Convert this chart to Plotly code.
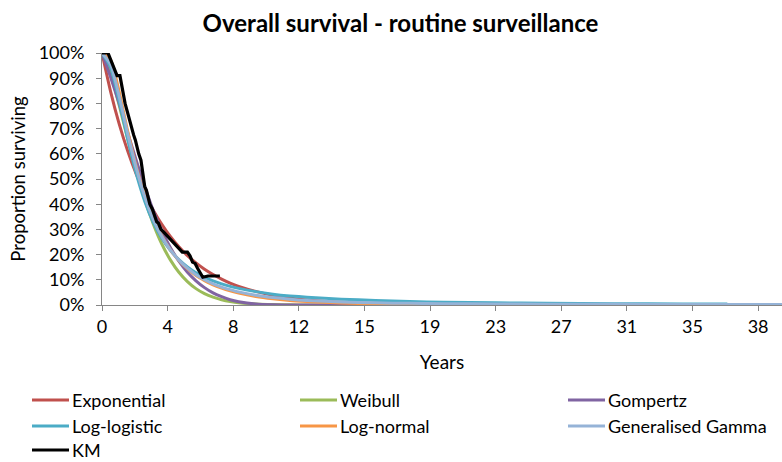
import plotly.graph_objects as go

# Time grid (years) for the fitted parametric curves
years = [0, 0.5, 1, 1.5, 2, 2.5, 3, 3.5, 4, 4.5, 5, 5.5, 6, 6.5, 7, 7.5, 8, 9, 10,
         11, 12, 14, 16, 18, 20, 23, 26, 30, 34, 36.6, 40]

exponential = [1, 0.848, 0.720, 0.612, 0.520, 0.442, 0.376, 0.320, 0.272, 0.231, 0.196,
               0.167, 0.142, 0.121, 0.103, 0.087, 0.074, 0.054, 0.039, 0.028, 0.020,
               0.011, 0.0055, 0.0029, 0.0015, 0.0006, 0.0002, 0, 0, 0, 0]
weibull = [1, 0.919, 0.794, 0.660, 0.533, 0.419, 0.322, 0.242, 0.179, 0.130, 0.093,
           0.065, 0.045, 0.031, 0.021, 0.014, 0.009, 0.004, 0.0015, 0.0006, 0.0002,
           0, 0, 0, 0, 0, 0, 0, 0, 0, 0]
gompertz = [1, 0.905, 0.800, 0.685, 0.575, 0.470, 0.375, 0.295, 0.228, 0.174, 0.130,
            0.096, 0.069, 0.048, 0.033, 0.021, 0.013, 0.004, 0.001, 0.0002, 0,
            0, 0, 0, 0, 0, 0, 0, 0, 0, 0]
log_logistic = [1, 0.944, 0.811, 0.659, 0.522, 0.412, 0.328, 0.265, 0.217, 0.180, 0.151,
                0.128, 0.110, 0.096, 0.084, 0.074, 0.066, 0.053, 0.043, 0.036, 0.031,
                0.023, 0.018, 0.014, 0.011, 0.0086, 0.0068, 0.0051, 0.0040, 0.0035, None]
log_normal = [1, 0.973, 0.848, 0.691, 0.550, 0.435, 0.344, 0.274, 0.219, 0.177, 0.144,
              0.117, 0.097, 0.080, 0.067, 0.056, 0.047, 0.034, 0.025, 0.018, 0.014,
              0.008, 0.005, 0.0032, 0.0023, 0.0012, 0.0007, 0.0003, 0.0002, 0.0001, 0.0001]
gen_gamma = [1, 0.955, 0.830, 0.680, 0.545, 0.430, 0.340, 0.272, 0.219, 0.178, 0.146,
             0.120, 0.100, 0.084, 0.071, 0.061, 0.052, 0.039, 0.030, 0.023, 0.018,
             0.012, 0.0085, 0.0065, 0.0052, 0.0040, 0.0032, 0.0025, 0.0020, 0.0018, 0.0016]

# Kaplan-Meier estimate
km_years = [0, 0.35, 0.5, 0.65, 0.8, 0.88, 1.05, 1.15, 1.25, 1.35, 1.45, 1.55, 1.65,
            1.75, 1.85, 1.95, 2.05, 2.15, 2.28, 2.4, 2.5, 2.6, 2.7, 2.8, 2.95, 3.1,
            3.2, 3.3, 3.45, 3.6, 3.8, 4.0, 4.15, 4.35, 4.55, 4.7, 5.0, 5.15, 5.3,
            5.45, 5.6, 5.75, 5.9, 6.2, 6.9]
km_surv = [1, 1, 0.975, 0.95, 0.92, 0.91, 0.91, 0.87, 0.84, 0.80, 0.775, 0.75, 0.715,
           0.69, 0.675, 0.655, 0.625, 0.60, 0.575, 0.52, 0.47, 0.455, 0.43, 0.40, 0.38,
           0.35, 0.33, 0.325, 0.30, 0.29, 0.275, 0.26, 0.25, 0.235, 0.22, 0.21, 0.21,
           0.195, 0.17, 0.165, 0.145, 0.13, 0.11, 0.115, 0.115]

# Axis tick positions (category spacing of 3.84 years) and their rounded labels
x_tick_vals = [i * 3.84 for i in range(11)]
x_tick_text = ["0", "4", "8", "12", "15", "19", "23", "27", "31", "35", "38"]

series = [
    ("Exponential", exponential, "#C0504D"),
    ("Weibull", weibull, "#9BBB59"),
    ("Gompertz", gompertz, "#8064A2"),
    ("Log-logistic", log_logistic, "#4BACC6"),
    ("Log-normal", log_normal, "#F79646"),
    ("Generalised Gamma", gen_gamma, "#95B3D7"),
]
km_color = "#000000"

FONT = "Lato"
W, H = 782, 462
ML, MR, MT, MB = 102, 0, 53, 157
PW, PH = W - ML - MR, H - MT - MB


def px_x(px):
    """Pixel column -> paper x."""
    return (px - ML) / PW


def px_y(py):
    """Pixel row -> paper y."""
    return (H - MB - py) / PH


fig = go.Figure()
for name, vals, color in series:
    fig.add_trace(go.Scatter(
        x=years, y=vals, name=name, mode="lines",
        line=dict(color=color, width=3, shape="spline", smoothing=0.6),
        connectgaps=False, showlegend=False,
    ))

fig.add_trace(go.Scatter(
    x=km_years, y=km_surv, name="KM", mode="lines",
    line=dict(color=km_color, width=3.2), showlegend=False,
))

# Legend laid out in three columns beneath the chart
legend_entries = [(n, c) for n, _, c in series] + [("KM", km_color)]
col_x = [32, 300, 568]
row_y = [400, 426, 450]
shapes, annotations = [], []
for i, (name, color) in enumerate(legend_entries):
    cx, ry = col_x[i % 3], row_y[i // 3]
    shapes.append(dict(type="line", xref="paper", yref="paper",
                       x0=px_x(cx), x1=px_x(cx + 37), y0=px_y(ry), y1=px_y(ry),
                       line=dict(color=color, width=3)))
    annotations.append(dict(text=name, xref="paper", yref="paper",
                            x=px_x(cx + 39), y=px_y(ry), xanchor="left", yanchor="middle",
                            showarrow=False, borderpad=0,
                            font=dict(family=FONT, size=18, color="#000000")))

fig.update_layout(
    width=W, height=H,
    margin=dict(l=ML, r=MR, t=MT, b=MB, autoexpand=False),
    paper_bgcolor="white", plot_bgcolor="white",
    font=dict(family=FONT, size=18, color="#000000"),
    title=dict(text="<b>Overall survival - routine surveillance</b>",
               font=dict(family=FONT, size=24, color="#000000"),
               x=400.5 / W, xanchor="center", y=1 - 24 / H, yanchor="middle"),
    showlegend=False,
    shapes=shapes, annotations=annotations,
)

fig.update_xaxes(
    range=[0, 39.8], tickvals=x_tick_vals, ticktext=x_tick_text,
    showline=True, linecolor="#868686", linewidth=1,
    ticks="outside", ticklen=5, tickcolor="#868686",
    showgrid=False, zeroline=False,
    tickfont=dict(family=FONT, size=18, color="#000000"),
    title=dict(text="Years", font=dict(family=FONT, size=19, color="#000000"), standoff=20),
)
fig.update_yaxes(
    range=[0, 1], dtick=0.1, tickformat=".0%",
    showline=True, linecolor="#868686", linewidth=1,
    ticks="outside", ticklen=5, tickcolor="#868686", ticklabelstandoff=8,
    showgrid=False, zeroline=False,
    tickfont=dict(family=FONT, size=18, color="#000000"),
    title=dict(text="Proportion surviving", font=dict(family=FONT, size=18.5, color="#000000"), standoff=8),
)

fig.write_html("out.html")
